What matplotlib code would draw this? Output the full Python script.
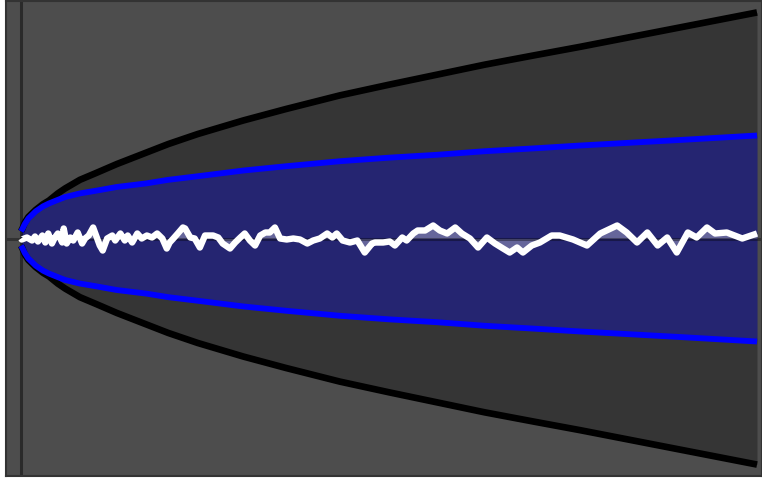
import matplotlib
matplotlib.use("Agg")
import matplotlib.pyplot as plt
import numpy as np

# Envelope of a random walk: outer band (std of the walk) and inner band
band_steps = [0, 2, 5, 10, 20, 30, 38, 50, 60, 80, 103, 130, 170, 200, 240, 302, 360,
              433, 500, 565, 630, 697, 760, 830, 900, 1000]
outer_band = [1.0, 1.4, 2.2, 3.0, 4.0, 4.8, 5.3, 6.3, 7.0, 8.2, 9.2, 10.4, 12.0, 13.2,
              14.6, 16.5, 18.1, 20.0, 21.5, 22.9, 24.3, 25.6, 26.8, 28.2, 29.6, 31.6]
inner_band = [1.0, 1.35, 2.0, 2.8, 3.8, 4.5, 4.9, 5.4, 5.8, 6.3, 6.7, 7.2, 7.7, 8.2,
              8.7, 9.5, 10.1, 10.8, 11.3, 11.7, 12.2, 12.6, 13.0, 13.4, 13.8, 14.4]

# Running mean of the walk
mean_steps = [0, 1, 8, 15, 19, 23, 29, 33, 37, 42, 46, 50, 56, 58, 62, 67, 71, 77, 83, 87,
              92, 98, 103, 107, 111, 117, 124, 128, 135, 141, 145, 151, 158, 164, 171, 178,
              185, 192, 198, 202, 207, 213, 220, 223, 230, 236, 243, 250, 261, 268, 274,
              284, 291, 298, 304, 311, 318, 325, 332, 338, 345, 352, 361, 370, 379, 389,
              397, 406, 416, 423, 429, 437, 447, 457, 467, 477, 481, 492, 501, 508, 518,
              524, 533, 539, 549, 560, 569, 579, 590, 599, 610, 621, 633, 644, 655, 664,
              674, 682, 694, 705, 721, 732, 750, 769, 787, 810, 823, 837, 851, 865, 878,
              891, 906, 918, 932, 943, 959, 980, 1000]
mean_values = [0, -0.14, 0.14, -0.28, 0.28, -0.42, 0.42, -0.56, 0.70, -0.70, 0.14, 0.70,
               -0.56, 1.40, -0.70, 0.14, -0.28, 0.84, -0.70, 0, 0.42, 1.54, 0.14, -0.98,
               -1.68, 0, 0.42, -0.28, 0.70, -0.28, 0.42, -0.56, 0.70, 0, 0.42, 0.14, 0.70,
               0, -1.40, -0.56, 0, 0.70, 1.54, 1.40, 0.14, 0, -1.26, 0.42, 0.42, 0.14,
               -0.70, -1.40, -0.56, 0.14, 0.70, -0.28, -0.98, 0.42, 0.84, 0.84, 1.54, 0,
               -0.14, 0, -0.14, -0.70, -0.28, 0, 0.70, 0.14, 0.70, -0.28, -0.56, -0.28,
               -1.96, -0.70, -0.56, -0.56, -0.42, -0.98, 0.14, -0.28, 0.70, 1.12, 1.12,
               1.82, 1.12, 0.70, 1.54, 0.70, 0, -1.26, 0.14, -0.70, -1.40, -1.96, -1.26,
               -1.96, -0.98, -0.56, 0.42, 0.42, -0.14, -0.98, 0.70, 1.82, 0.84, -0.56,
               0.84, -0.98, 0.14, -1.96, 0.84, 0.14, 1.54, 0.70, 0.84, 0, 0.70]

bs = np.array(band_steps)
outer = np.array(outer_band)
inner = np.array(inner_band)
ms = np.array(mean_steps)
mv = np.array(mean_values)

fig = plt.figure(figsize=(7.62, 4.78), dpi=100)
ax = fig.add_axes([6 / 762, 2 / 478, 756 / 762, 475 / 478])
ax.set_facecolor('#4d4d4d')

# shaded bands
ax.fill_between(bs, -outer, outer, color='black', alpha=0.3, lw=0)
ax.fill_between(bs, -inner, inner, color='blue', alpha=0.3, lw=0)
ax.fill_between(ms, 0, mv, color='white', alpha=0.3, lw=0)

# reference lines
ax.axhline(0, color='black', alpha=0.35, lw=2.2)
ax.axvline(0, color='black', alpha=0.45, lw=2.2)

# band edges
line_kw = dict(solid_joinstyle='round', solid_capstyle='butt')
ax.plot(bs, outer, color='black', lw=4.8, **line_kw)
ax.plot(bs, -outer, color='black', lw=4.8, **line_kw)
ax.plot(bs, inner, color='blue', lw=4.2, **line_kw)
ax.plot(bs, -inner, color='blue', lw=4.2, **line_kw)

# running mean
ax.plot(ms, mv, color='white', lw=4.6, solid_joinstyle='round', solid_capstyle='butt')

ax.set_xlim(-20.4, 1006.8)
ax.set_ylim(-33.2, 33.2)
ax.set_xticks([])
ax.set_yticks([])
for sp in ax.spines.values():
    sp.set_color('#333333')
    sp.set_linewidth(1.5)

fig.savefig('out.png', dpi=100)
